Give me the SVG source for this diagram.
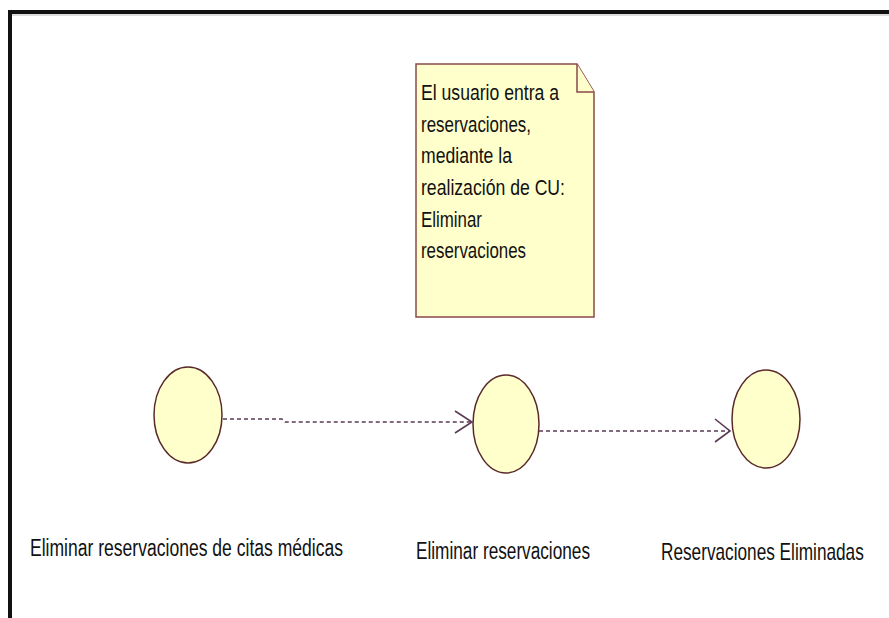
<svg xmlns="http://www.w3.org/2000/svg" width="889" height="618" viewBox="0 0 889 618">
<defs>
<style>
.frame{fill:none;stroke:#111;stroke-width:4}
.uc{fill:#ffffcc;stroke:#5a2a2a;stroke-width:1.5}
.note{fill:#ffffcc;stroke:#8b4a4a;stroke-width:1.5}
.dep{fill:none;stroke:#5a3a55;stroke-width:1.6;stroke-dasharray:4 3}
.head{fill:none;stroke:#5a3a55;stroke-width:1.6}
.t{font-family:"Liberation Sans",Arial,sans-serif;font-size:22px;fill:#111}
.lbl{font-family:"Liberation Sans",Arial,sans-serif;font-size:23px;fill:#111}
</style>
</defs>
<rect width="889" height="618" fill="#fff"/>
<path class="frame" d="M10,618 V12 H889"/>
<line x1="12" y1="15" x2="889" y2="15" stroke="#bbb" stroke-width="1"/>
<g id="note">
<path class="note" d="M416,64 H577 L594,92 V317 H416 Z"/>
<path class="note" d="M577,64 V92 H594"/>
<text class="t" x="421" y="100" textLength="138" lengthAdjust="spacingAndGlyphs">El usuario entra a</text>
<text class="t" x="421" y="132" textLength="110" lengthAdjust="spacingAndGlyphs">reservaciones,</text>
<text class="t" x="421" y="163" textLength="91" lengthAdjust="spacingAndGlyphs">mediante la</text>
<text class="t" x="421" y="195" textLength="144" lengthAdjust="spacingAndGlyphs">realización de CU:</text>
<text class="t" x="421" y="227" textLength="61" lengthAdjust="spacingAndGlyphs">Eliminar</text>
<text class="t" x="421" y="258" textLength="105" lengthAdjust="spacingAndGlyphs">reservaciones</text>
</g>
<g id="uc1">
<ellipse class="uc" cx="188" cy="415" rx="34" ry="48"/>
<text class="lbl" x="30" y="556" textLength="313" lengthAdjust="spacingAndGlyphs">Eliminar reservaciones de citas médicas</text>
</g>
<g id="uc2">
<ellipse class="uc" cx="506" cy="424" rx="33" ry="49"/>
<text class="lbl" x="416" y="559" textLength="174" lengthAdjust="spacingAndGlyphs">Eliminar reservaciones</text>
</g>
<g id="uc3">
<ellipse class="uc" cx="766" cy="419" rx="34" ry="49"/>
<text class="lbl" transform="translate(661,560) scale(0.749,1)" x="0" y="0">Reservaciones Eliminadas</text>
</g>
<g id="connectors">
<polyline class="dep" points="223,419 282,419 285,422 472,422"/>
<polyline class="head" points="455,411 472,422 455,433"/>
<line class="dep" x1="539" y1="431" x2="730" y2="431"/>
<polyline class="head" points="715,419 730,431 715,442"/>
</g>
</svg>
